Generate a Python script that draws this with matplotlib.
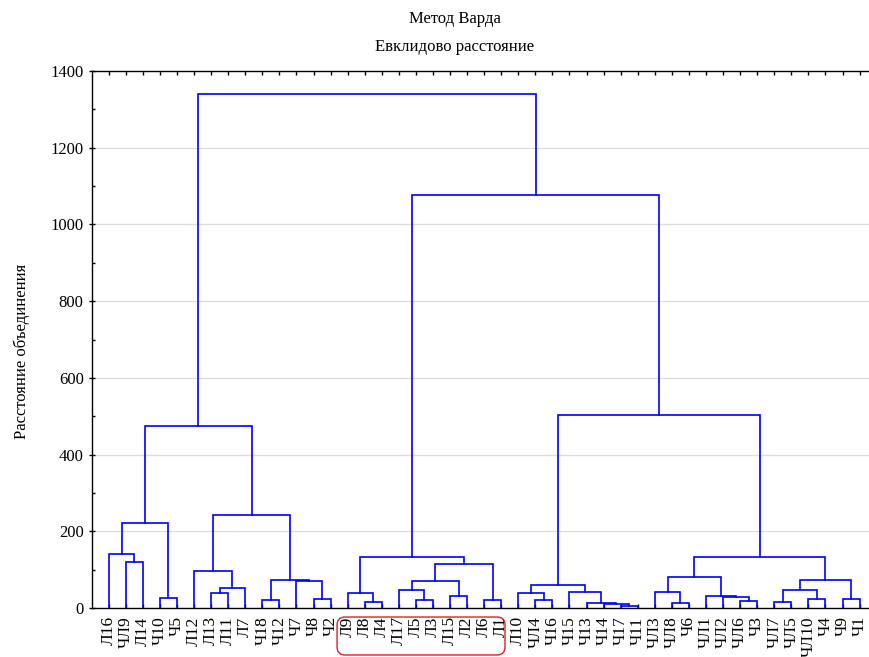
import numpy as np
import matplotlib
matplotlib.use("Agg")
import matplotlib.pyplot as plt
from matplotlib.patches import FancyBboxPatch
from matplotlib.ticker import MultipleLocator
import matplotlib.transforms as mtransforms

plt.rcParams["font.family"] = ["Liberation Serif", "DejaVu Serif"]
plt.rcParams["font.size"] = 12

# leaf order as drawn (left to right)
leaves = ["Л16", "ЧЛ9", "Л14", "Ч10", "Ч5", "Л12", "Л13", "Л11", "Л7", "Ч18",
          "Ч12", "Ч7", "Ч8", "Ч2", "Л9", "Л8", "Л4", "Л17", "Л5", "Л3",
          "Л15", "Л2", "Л6", "Л1", "Л10", "ЧЛ4", "Ч16", "Ч15", "Ч13", "Ч14",
          "Ч17", "Ч11", "ЧЛ3", "ЧЛ8", "Ч6", "ЧЛ1", "ЧЛ2", "ЧЛ6", "Ч3", "ЧЛ7",
          "ЧЛ5", "ЧЛ10", "Ч4", "Ч9", "Ч1"]

# merges: (left, right, height); clusters referenced as "m<k>"
merges = [
    ("ЧЛ9", "Л14", 119), ("Л16", "m0", 142), ("Ч10", "Ч5", 27), ("m1", "m2", 221),
    ("Л13", "Л11", 40), ("m4", "Л7", 53), ("Л12", "m5", 96), ("Ч18", "Ч12", 20),
    ("Ч8", "Ч2", 23), ("Ч7", "m8", 70), ("m7", "m9", 73), ("m6", "m10", 242),
    ("m3", "m11", 474),
    ("Л8", "Л4", 15), ("Л9", "m13", 39), ("Л5", "Л3", 20), ("Л17", "m15", 48),
    ("Л15", "Л2", 30), ("m16", "m17", 70), ("Л6", "Л1", 22), ("m18", "m19", 114),
    ("m14", "m20", 134),
    ("ЧЛ4", "Ч16", 21), ("Л10", "m22", 40), ("Ч17", "Ч11", 6), ("Ч14", "m24", 11),
    ("Ч13", "m25", 14), ("Ч15", "m26", 43), ("m23", "m27", 60),
    ("ЧЛ8", "Ч6", 12), ("ЧЛ3", "m29", 41), ("ЧЛ6", "Ч3", 19), ("ЧЛ2", "m31", 29),
    ("ЧЛ1", "m32", 32), ("m30", "m33", 80), ("ЧЛ7", "ЧЛ5", 16), ("ЧЛ10", "Ч4", 23),
    ("m35", "m36", 47), ("Ч9", "Ч1", 24), ("m37", "m38", 73), ("m34", "m39", 134),
    ("m28", "m40", 503), ("m21", "m41", 1077), ("m12", "m42", 1340),
]

pos = {name: (float(i), 0.0) for i, name in enumerate(leaves)}
segs = []
for k, (a, b, h) in enumerate(merges):
    xa, ha = pos[a]
    xb, hb = pos[b]
    segs.append(([xa, xa, xb, xb], [ha, h, h, hb]))
    pos[f"m{k}"] = ((xa + xb) / 2, h)

fig = plt.figure(figsize=(8.69, 6.57), dpi=100)
ax = fig.add_axes([92 / 869, 1 - 608 / 657, (869 - 92) / 869, 537 / 657])

for xs, ys in segs:
    ax.plot(xs, ys, color="#0000ff", lw=1.2, solid_joinstyle="miter", zorder=3)

x = np.arange(len(leaves))
ax.set_xlim(-0.98, 44.55)
ax.set_ylim(0, 1400)
ax.set_xticks(x)
ax.set_xticklabels(leaves, rotation=90, fontsize=12.5)
ax.yaxis.set_major_locator(MultipleLocator(200))
ax.yaxis.set_minor_locator(MultipleLocator(100))
ax.grid(axis="y", which="major", color="#dcdcdc", lw=0.9, zorder=0)
ax.tick_params(axis="x", direction="in", length=3, width=1.0, pad=6,
               top=True, labeltop=False)
ax.tick_params(axis="y", which="major", direction="inout", length=5, width=1.0,
               labelsize=12)
ax.tick_params(axis="y", which="minor", direction="in", length=2.5, width=1.0)
ax.spines["right"].set_visible(False)
for s in ["left", "top", "bottom"]:
    ax.spines[s].set_linewidth(1.0)
ax.set_ylabel("Расстояние объединения", fontsize=12)
ax.yaxis.set_label_coords(-0.08, 0.478)

fig.text(455 / 869, 1 - 19 / 657, "Метод Варда", ha="center", va="center", fontsize=12)
fig.text(455 / 869, 1 - 47 / 657, "Евклидово расстояние", ha="center", va="center", fontsize=12)

# red highlight box around the Л9..Л1 labels
trans = mtransforms.blended_transform_factory(ax.transData, ax.transAxes)
i0, i1 = leaves.index("Л9"), leaves.index("Л1")
box = FancyBboxPatch((i0 - 0.62, -0.0875), (i1 - i0) + 0.84, 0.0707,
                     boxstyle="round,pad=0,rounding_size=0.47", transform=trans,
                     fill=False, edgecolor="#e02020", lw=1.0, clip_on=False,
                     mutation_aspect=0.0317)
ax.add_patch(box)

fig.savefig("out.png", dpi=100)
